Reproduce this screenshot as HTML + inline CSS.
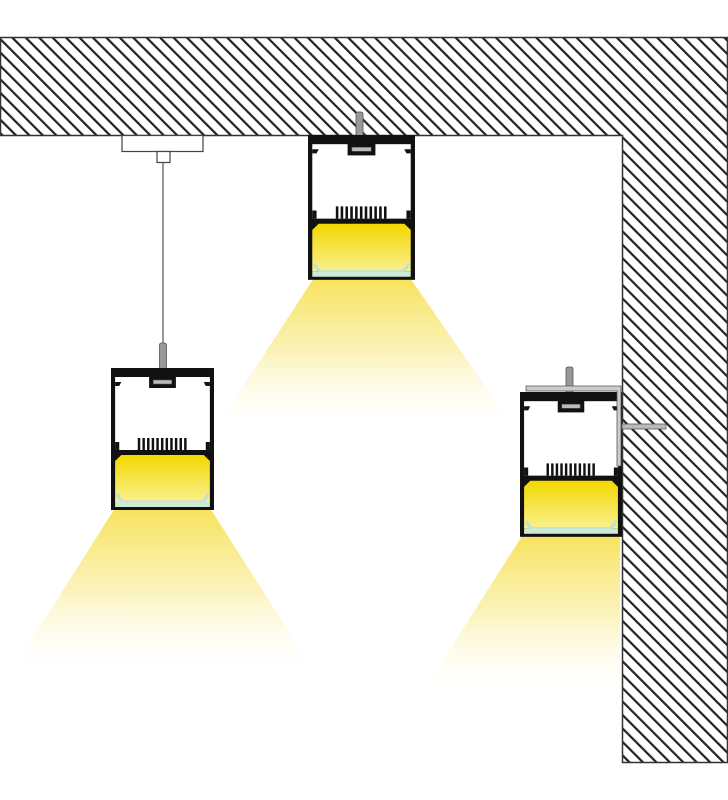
<!DOCTYPE html>
<html><head><meta charset="utf-8"><style>html,body{margin:0;padding:0;background:#fff}svg{display:block}</style></head>
<body>
<svg width="728" height="800" viewBox="0 0 728 800" xmlns="http://www.w3.org/2000/svg">
<defs>
<pattern id="h" patternUnits="userSpaceOnUse" width="9.5" height="9.5" patternTransform="rotate(-45)">
<rect width="9.5" height="9.5" fill="#fff"/><rect x="0" y="0" width="2.2" height="9.5" fill="#222"/>
</pattern>
<linearGradient id="cone" x1="0" y1="0" x2="0" y2="1">
<stop offset="0" stop-color="#f7e25a" stop-opacity="1"/>
<stop offset="0.5" stop-color="#faeea0" stop-opacity="0.75"/>
<stop offset="1" stop-color="#fffbe8" stop-opacity="0"/>
</linearGradient>
<linearGradient id="yel" x1="0" y1="0" x2="0" y2="1">
<stop offset="0" stop-color="#f2d800"/><stop offset="1" stop-color="#faf090"/>
</linearGradient>
<g id="lum">
<rect x="0" y="0" width="100" height="142" fill="#111"/>
<rect x="4" y="9" width="92" height="73" fill="#fff"/>
<rect x="37" y="8" width="26" height="12" fill="#111"/>
<rect x="41" y="12" width="18" height="4" fill="#bbb" stroke="#555" stroke-width="0.6"/>
<path d="M4 14 h6 l-2 4 h-4z M96 14 h-6 l2 4 h4z" fill="#111"/>
<path d="M4 74 h4 v8 h-4z M96 74 h-4 v8 h4z" fill="#111"/>
<g fill="#111">
<rect x="26" y="70" width="2.4" height="12"/><rect x="30.5" y="70" width="2.4" height="12"/><rect x="35" y="70" width="2.4" height="12"/><rect x="39.5" y="70" width="2.4" height="12"/><rect x="44" y="70" width="2.4" height="12"/><rect x="48.5" y="70" width="2.4" height="12"/><rect x="53" y="70" width="2.4" height="12"/><rect x="57.5" y="70" width="2.4" height="12"/><rect x="62" y="70" width="2.4" height="12"/><rect x="66.5" y="70" width="2.4" height="12"/><rect x="71" y="70" width="2.4" height="12"/>
</g>
<path d="M10 87 H90 L96 93 V134 H4 V93 Z" fill="url(#yel)"/>
<path d="M6 126 q2 6 6 8 H88 q4 -2 6 -8" fill="none" stroke="#bfe3cf" stroke-width="3"/>
<rect x="4" y="134" width="92" height="5" fill="#cde9d8"/>
</g>
</defs>

<polygon points="115,508 210,508 312,668 14,668" fill="url(#cone)"/>
<polygon points="314,278 410,278 512,425 218,425" fill="url(#cone)"/>
<polygon points="524,533 620,533 620,690 424,690" fill="url(#cone)"/>

<path d="M0.5 37.5 H727.5 V762.5 H622.5 V135.5 H0.5 Z" fill="url(#h)" stroke="#333" stroke-width="1.5"/>

<rect x="122" y="135.5" width="81" height="16" fill="#fff" stroke="#444" stroke-width="1.2"/>
<rect x="157" y="151.5" width="13" height="11" fill="#fff" stroke="#444" stroke-width="1.2"/>
<line x1="163" y1="163" x2="163" y2="345" stroke="#555" stroke-width="1.2"/>

<rect x="159.5" y="343" width="7" height="30" rx="2" fill="#999" stroke="#555" stroke-width="0.8"/>
<use href="#lum" transform="translate(111,368) scale(1.03,1)"/>

<rect x="356" y="112" width="7" height="30" rx="2" fill="#999" stroke="#555" stroke-width="0.8"/>
<use href="#lum" transform="translate(308,135) scale(1.07,1.02)"/>

<rect x="566" y="367" width="7" height="32" rx="2" fill="#999" stroke="#555" stroke-width="0.8"/>
<use href="#lum" transform="translate(520,392) scale(1.02,1.02)"/>
<path d="M526 386 H621 V466 H617 V391 H526 Z" fill="#ccc" stroke="#555" stroke-width="0.8"/>
<rect x="622" y="424" width="44" height="5" fill="#bbb" stroke="#555" stroke-width="0.8"/>
</svg>
</body></html>
